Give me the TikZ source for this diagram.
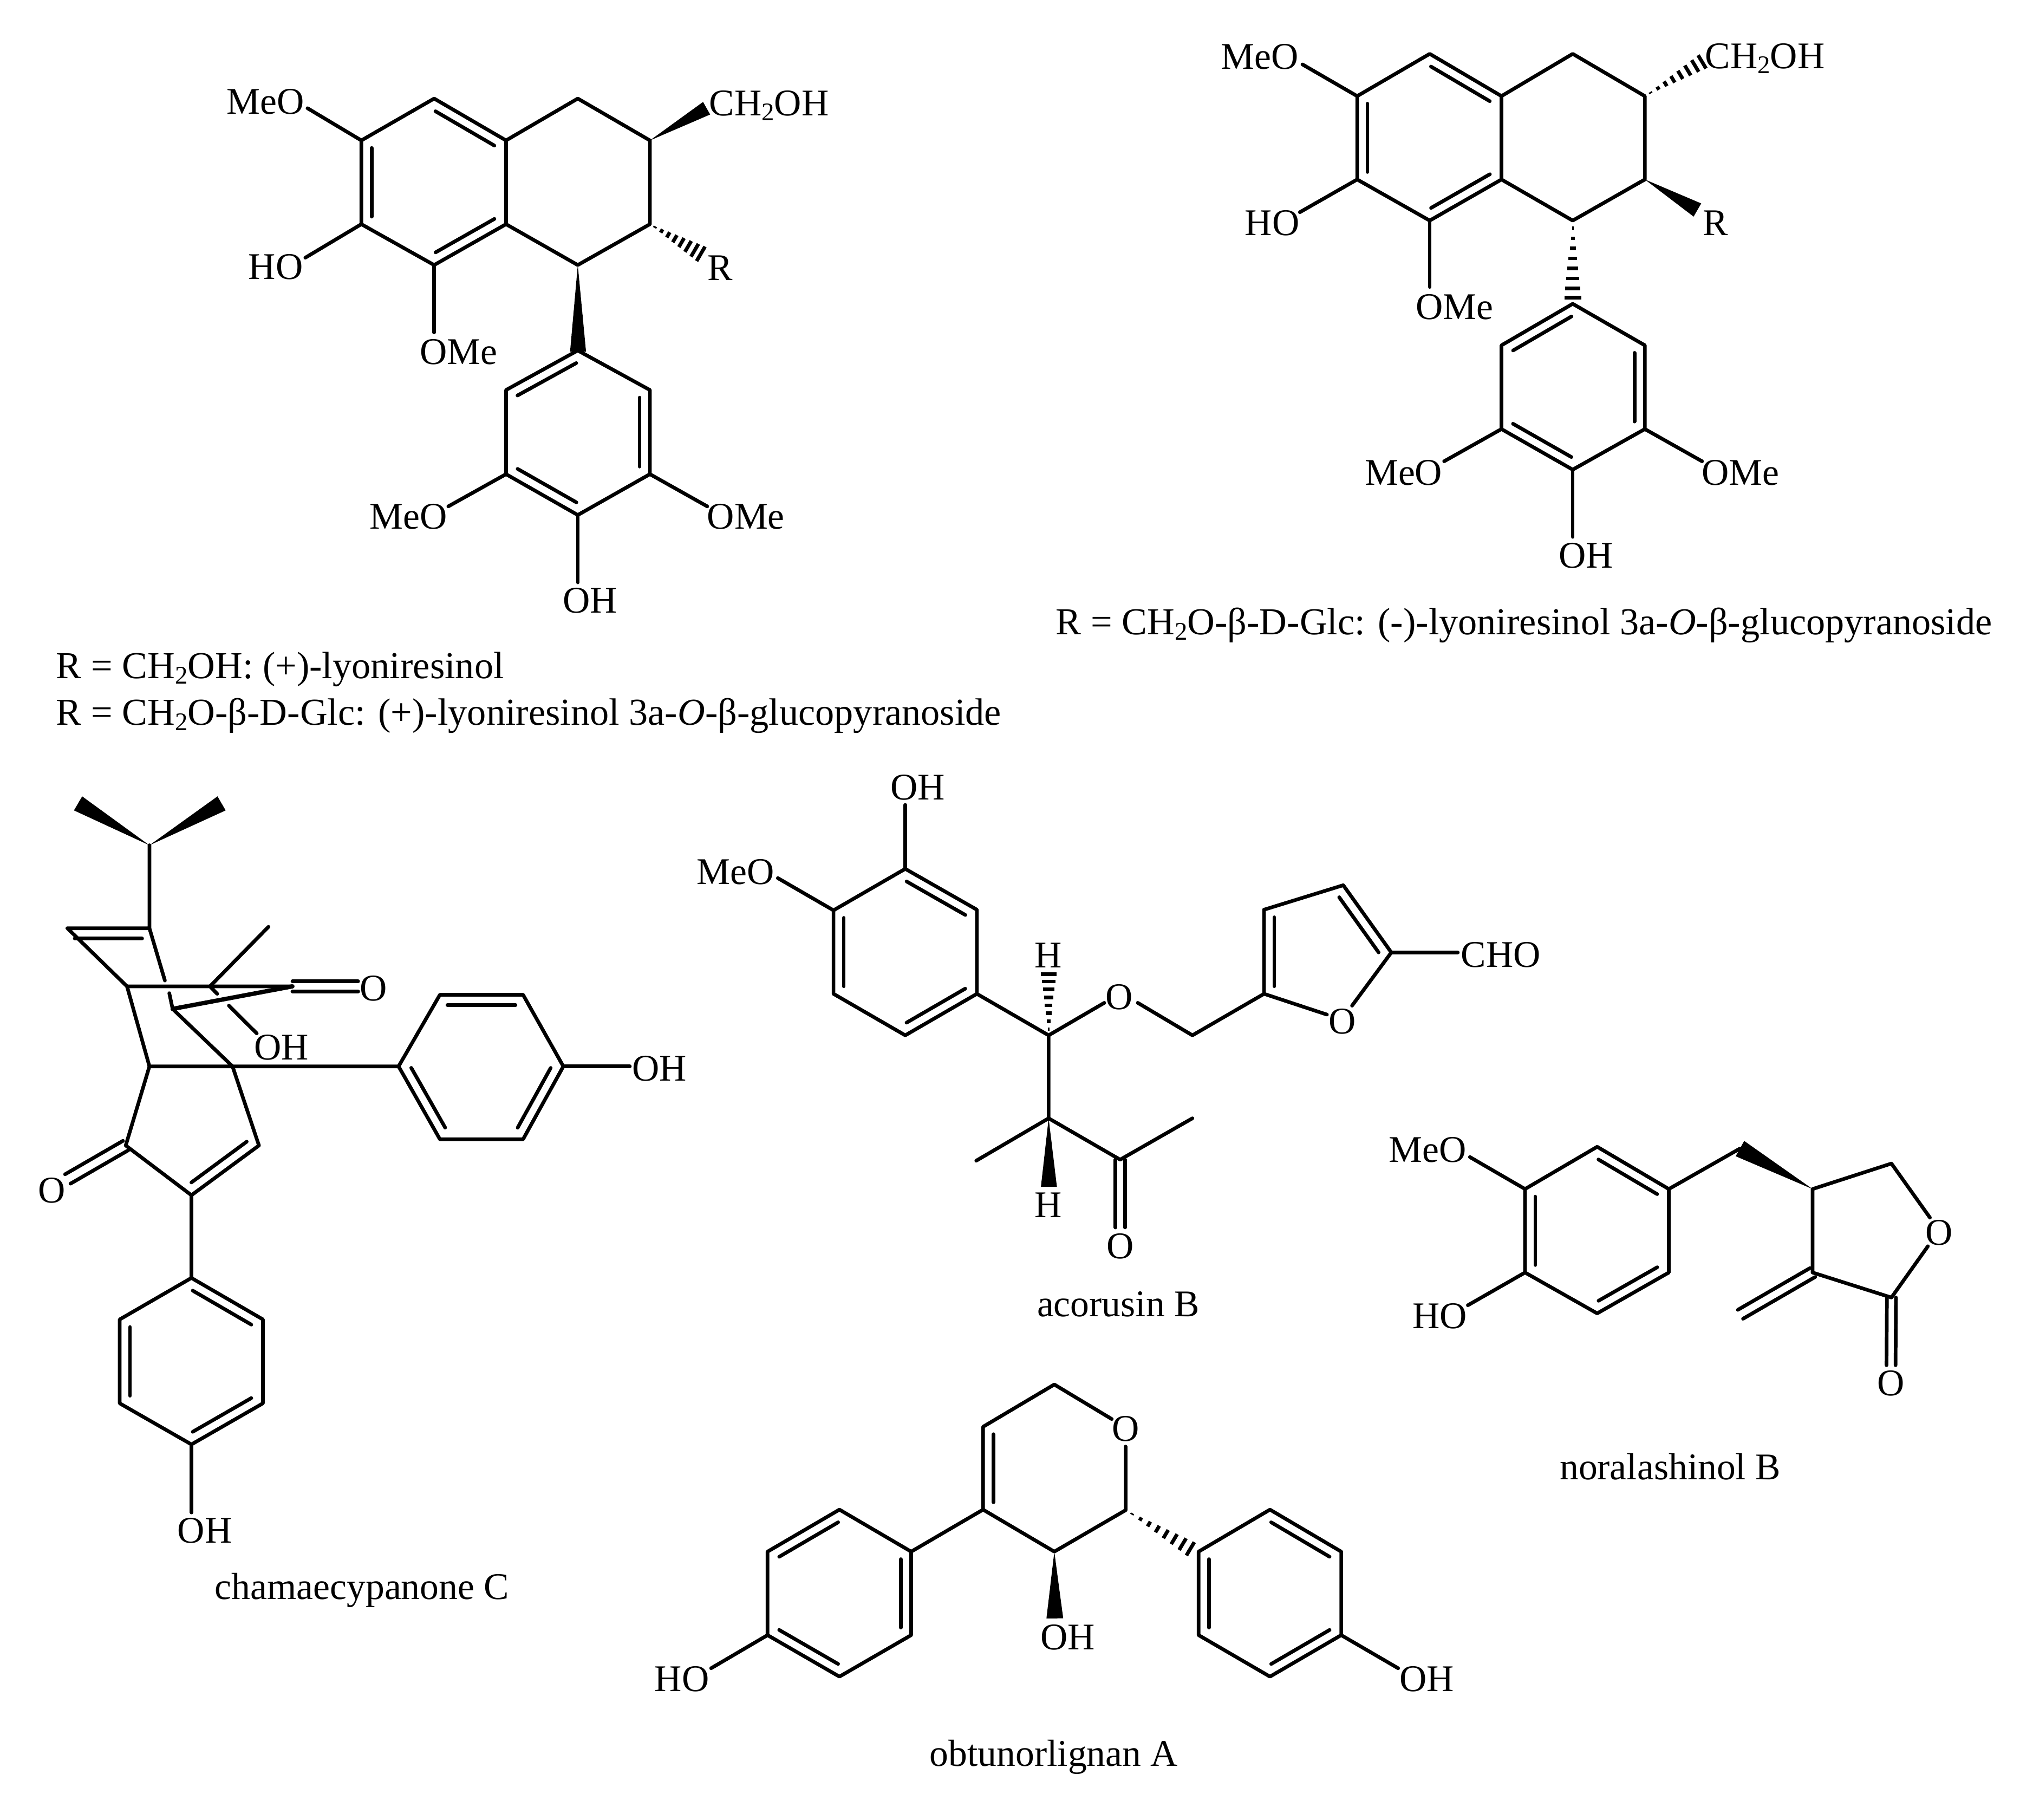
\documentclass[tikz,border=0pt]{standalone}
\usepackage{fontspec}
\setmainfont{Liberation Serif}
\usepackage{tikz}
\usetikzlibrary{calc}

\tikzset{
    bond/.style={line width=0.8pt,line cap=round,line join=round},
    lab/.style={inner sep=0pt,font=\fontsize{8.32}{10}\selectfont,text height=5.5pt,text depth=0pt},
    caption/.style={lab,anchor=west,font=\fontsize{8.4}{10}\selectfont}
}
\newcommand{\chemsub}[1]{\raisebox{-0.3ex}{\fontsize{5.6}{6}\selectfont #1}}
% inner line of a ring bond, on the left of the direction #1 to #2
\newcommand{\dbl}[2]{\draw[bond] ($(#1)!0.09!(#2)!0.08cm!90:(#2)$) -- ($(#2)!0.09!(#1)!0.08cm!-90:(#1)$);}
\newcommand{\twin}[3]{
    \draw[bond] ($(#1)!#3!90:(#2)$) -- ($(#2)!#3!-90:(#1)$);
    \draw[bond] ($(#1)!#3!-90:(#2)$) -- ($(#2)!#3!90:(#1)$);
}
\newcommand{\wedgebond}[3]{\fill (#1) -- ($(#2)!#3!90:(#1)$) -- ($(#2)!#3!-90:(#1)$) -- cycle;}
\newcommand{\hashbond}[3]{
    \foreach \t in {0.1,0.23,0.36,0.49,0.62,0.75,0.88,1}
        \draw[line width=0.8pt] ($(#1)!\t!(#2)!\t*#3!90:(#1)$) -- ($(#1)!\t!(#2)!\t*#3!-90:(#1)$);
}

\begin{document}
\begin{tikzpicture}[x=0.01cm,y=-0.01cm]

    \useasboundingbox (0,0) rectangle (1568,1412.4);

    % (+)-lyoniresinol
    \coordinate (a1) at (280.5,109); \coordinate (a2) at (337,76.5); \coordinate (a3) at (392.8,109);
    \coordinate (a4) at (392.8,174); \coordinate (a5) at (337,205.7); \coordinate (a6) at (280.5,174);
    \coordinate (b1) at (448.5,76.5); \coordinate (b2) at (504.5,109);
    \coordinate (b3) at (504.5,174); \coordinate (b4) at (448.5,205.7);
    \coordinate (c1) at (448.5,272); \coordinate (c2) at (504.5,302.7); \coordinate (c3) at (504.5,368);
    \coordinate (c4) at (448.5,399.7); \coordinate (c5) at (392.8,368); \coordinate (c6) at (392.8,302.7);
    \coordinate (a1e) at (238.7,84); \coordinate (a6e) at (237,200); \coordinate (a5e) at (337,258);
    \coordinate (c5e) at (348,393); \coordinate (c3e) at (549,393); \coordinate (c4e) at (448.5,452);
    \coordinate (b2e) at (548.5,84); \coordinate (b3e) at (544,197); \coordinate (b4e) at (448.7,273);

    \node[lab] (a1l) at (206,79) {MeO};
    \node[lab] (a6l) at (214,207) {HO};
    \node[lab] (a5l) at (356,273) {OMe};
    \node[lab] (c5l) at (317,401) {MeO};
    \node[lab] (c3l) at (579,401) {OMe};
    \node[lab] (c4l) at (458,466) {OH};
    \node[lab] (b2l) at (597,80) {CH\chemsub{2}OH};
    \node[lab] (b3l) at (559,208) {R};

    \draw[bond] (a1) -- (a2) -- (a3) -- (a4) -- (a5) -- (a6) -- cycle;
    \draw[bond] (a3) -- (b1) -- (b2) -- (b3) -- (b4) -- (a4);
    \draw[bond] (c1) -- (c2) -- (c3) -- (c4) -- (c5) -- (c6) -- cycle;
    \draw[bond] (a1) -- (a1e);
    \draw[bond] (a6) -- (a6e);
    \draw[bond] (a5) -- (a5e);
    \draw[bond] (c5) -- (c5e);
    \draw[bond] (c3) -- (c3e);
    \draw[bond] (c4) -- (c4e);
    \dbl{a1}{a6} \dbl{a3}{a2} \dbl{a5}{a4}
    \dbl{c1}{c6} \dbl{c3}{c2} \dbl{c5}{c4}
    \wedgebond{b2}{b2e}{0.056cm}
    \wedgebond{b4}{b4e}{0.062cm}
    \hashbond{b3}{b3e}{0.065cm}

    \node[caption] (cap1) at (43,517) {R = CH\chemsub{2}OH: (+)-lyoniresinol};
    \node[caption] (cap2) at (43,553) {R = CH\chemsub{2}O-β-D-Glc: (+)-lyoniresinol 3a-\textit{O}-β-glucopyranoside};

    % (-)-lyoniresinol
    \coordinate (m1) at (1053.5,74.6); \coordinate (m2) at (1109.8,41.8); \coordinate (m3) at (1165.5,74.6);
    \coordinate (m4) at (1165.5,139.3); \coordinate (m5) at (1109.8,171.2); \coordinate (m6) at (1053.5,139.3);
    \coordinate (n1) at (1220.8,41.8); \coordinate (n2) at (1276.8,74.6);
    \coordinate (n3) at (1276.8,139.3); \coordinate (n4) at (1220.8,171.2);
    \coordinate (p1) at (1220.8,235.8); \coordinate (p2) at (1276.8,268); \coordinate (p3) at (1276.8,333);
    \coordinate (p4) at (1220.8,364.5); \coordinate (p5) at (1165.5,333); \coordinate (p6) at (1165.5,268);
    \coordinate (m1e) at (1011,50); \coordinate (m6e) at (1009,164.7); \coordinate (m5e) at (1109.8,222.7);
    \coordinate (p5e) at (1121,358); \coordinate (p3e) at (1321.2,358); \coordinate (p4e) at (1220.8,416.7);
    \coordinate (n2e) at (1321.2,48); \coordinate (n3e) at (1317.6,163); \coordinate (n4e) at (1220.8,231);

    \node[lab] (m1l) at (978,44) {MeO};
    \node[lab] (m6l) at (987.5,172.8) {HO};
    \node[lab] (m5l) at (1129,238) {OMe};
    \node[lab] (p5l) at (1089.5,366.8) {MeO};
    \node[lab] (p3l) at (1351,366.8) {OMe};
    \node[lab] (p4l) at (1231,431) {OH};
    \node[lab] (n2l) at (1370,43.4) {CH\chemsub{2}OH};
    \node[lab] (n3l) at (1331.8,172.8) {R};

    \draw[bond] (m1) -- (m2) -- (m3) -- (m4) -- (m5) -- (m6) -- cycle;
    \draw[bond] (m3) -- (n1) -- (n2) -- (n3) -- (n4) -- (m4);
    \draw[bond] (p1) -- (p2) -- (p3) -- (p4) -- (p5) -- (p6) -- cycle;
    \draw[bond] (m1) -- (m1e);
    \draw[bond] (m6) -- (m6e);
    \draw[bond] (m5) -- (m5e);
    \draw[bond] (p5) -- (p5e);
    \draw[bond] (p3) -- (p3e);
    \draw[bond] (p4) -- (p4e);
    \dbl{m1}{m6} \dbl{m3}{m2} \dbl{m5}{m4}
    \dbl{p1}{p6} \dbl{p3}{p2} \dbl{p5}{p4}
    \hashbond{n2}{n2e}{0.06cm}
    \hashbond{n4}{n4e}{0.065cm}
    \wedgebond{n3}{n3e}{0.059cm}

    \node[caption] (cap3) at (819,483) {R = CH\chemsub{2}O-β-D-Glc: (-)-lyoniresinol 3a-\textit{O}-β-glucopyranoside};

    % chamaecypanone C
    \coordinate (v0) at (116,656); \coordinate (w1) at (60.6,623.5); \coordinate (w2) at (172,623.5);
    \coordinate (d1) at (116,720.4); \coordinate (d2) at (52.3,720.4); \coordinate (d3) at (98.6,765.5);
    \coordinate (d4) at (116,827.6); \coordinate (d5) at (180.5,827.6); \coordinate (d6) at (134,783);
    \coordinate (d7) at (227,765.5); \coordinate (d8) at (163,765.5); \coordinate (d9) at (208.4,719.3);
    \coordinate (g1a) at (128,761); \coordinate (g1b) at (131.4,770.8);
    \coordinate (g2a) at (168.6,771.3); \coordinate (g2b) at (177.7,780.5); \coordinate (d8e) at (199.3,802);
    \coordinate (d7e) at (278,765.5);
    \coordinate (v1) at (97.6,889); \coordinate (v2) at (148.6,927.6); \coordinate (v3) at (201,889);
    \coordinate (v1e) at (52.6,915);
    \coordinate (e1) at (309.4,827.6); \coordinate (e2) at (341.5,772); \coordinate (e3) at (406,772);
    \coordinate (e4) at (437.3,827.6); \coordinate (e5) at (406,884.2); \coordinate (e6) at (341.5,884.2);
    \coordinate (e4e) at (488.9,827.6);
    \coordinate (f1) at (148.6,991.8); \coordinate (f2) at (204.1,1024); \coordinate (f3) at (204.1,1089.1);
    \coordinate (f4) at (148.6,1121); \coordinate (f5) at (92.9,1089.1); \coordinate (f6) at (92.9,1024);
    \coordinate (f4e) at (148.6,1173.8);

    \node[lab] (d7l) at (290,767) {O};
    \node[lab] (d8l) at (218.5,813) {OH};
    \node[lab] (v1l) at (40,923.6) {O};
    \node[lab] (e4l) at (512,829) {OH};
    \node[lab] (f4l) at (159,1187.9) {OH};
    \node[lab] (name1) at (281,1231.4) {chamaecypanone C};

    \draw[bond] (v0) -- (d1) -- (d2) -- (d3) -- (d7);
    \draw[bond] (d1) -- (g1a);
    \draw[bond] (g1b) -- (d6);
    \draw[bond,line width=0.95pt] (d6) -- (d7);
    \draw[bond] (d9) -- (d8) -- (g2a);
    \draw[bond] (g2b) -- (d8e);
    \draw[bond] (d3) -- (d4) -- (e1);
    \draw[bond] (d6) -- (d5);
    \draw[bond] (d4) -- (v1) -- (v2) -- (v3) -- (d5);
    \draw[bond] (v2) -- (f1);
    \draw[bond] (e1) -- (e2) -- (e3) -- (e4) -- (e5) -- (e6) -- cycle;
    \draw[bond] (e4) -- (e4e);
    \draw[bond] (f1) -- (f2) -- (f3) -- (f4) -- (f5) -- (f6) -- cycle;
    \draw[bond] (f4) -- (f4e);
    \dbl{d1}{d2} \dbl{v2}{v3}
    \dbl{e3}{e2} \dbl{e5}{e4} \dbl{e1}{e6}
    \dbl{f2}{f1} \dbl{f4}{f3} \dbl{f6}{f5}
    \twin{d7}{d7e}{0.04cm}
    \twin{v1}{v1e}{0.042cm}
    \wedgebond{v0}{w1}{0.063cm}
    \wedgebond{v0}{w2}{0.063cm}

    % acorusin B
    \coordinate (g1) at (702.7,674.3); \coordinate (g2) at (758.3,706); \coordinate (g3) at (758.3,771.3);
    \coordinate (g4) at (702.7,803.5); \coordinate (g5) at (647,771.3); \coordinate (g6) at (647,706.5);
    \coordinate (g1e) at (702.7,624.7); \coordinate (g6e) at (603.8,681.5);
    \coordinate (h1) at (814,803.5); \coordinate (h1e) at (814,756); \coordinate (h1o) at (857.2,778.3);
    \coordinate (o1e) at (883.2,778.3); \coordinate (h3) at (925.6,803.5);
    \coordinate (j1) at (981.2,771.3); \coordinate (j2) at (981.2,706); \coordinate (j3) at (1042.7,687);
    \coordinate (j4) at (1080,739.2); \coordinate (j1e) at (1030,787.4); \coordinate (j4e) at (1049.5,780.5);
    \coordinate (j5e) at (1131.6,739.2);
    \coordinate (h2) at (814,867.9); \coordinate (h2e) at (814.2,921);
    \coordinate (k1) at (757.8,900.8); \coordinate (k2) at (869.5,900); \coordinate (k3) at (925.6,867.9);
    \coordinate (k2e) at (869.5,952.6);

    \node[lab] (g1l) at (712.3,611) {OH};
    \node[lab] (g6l) at (571,676.4) {MeO};
    \node[lab] (h1l) at (813.5,741.3) {H};
    \node[lab] (o1l) at (868.6,773.5) {O};
    \node[lab] (j1l) at (1041.8,792.8) {O};
    \node[lab] (j4l) at (1165,741) {CHO};
    \node[lab] (h2l) at (813.5,935) {H};
    \node[lab] (k2l) at (869.5,967) {O};
    \node[lab] (name2) at (868,1012) {acorusin B};

    \draw[bond] (g1) -- (g2) -- (g3) -- (g4) -- (g5) -- (g6) -- cycle;
    \draw[bond] (g1) -- (g1e);
    \draw[bond] (g6) -- (g6e);
    \draw[bond] (g3) -- (h1) -- (h1o);
    \draw[bond] (h1) -- (h2) -- (k2) -- (k3);
    \draw[bond] (h2) -- (k1);
    \draw[bond] (o1e) -- (h3) -- (j1) -- (j2) -- (j3) -- (j4) -- (j4e);
    \draw[bond] (j1) -- (j1e);
    \draw[bond] (j4) -- (j5e);
    \dbl{g2}{g1} \dbl{g4}{g3} \dbl{g6}{g5}
    \dbl{j2}{j1} \dbl{j4}{j3}
    \twin{k2}{k2e}{0.037cm}
    \hashbond{h1}{h1e}{0.06cm}
    \wedgebond{h2}{h2e}{0.062cm}

    % noralashinol B
    \coordinate (q1) at (1183.8,922.8); \coordinate (q2) at (1239.8,890); \coordinate (q3) at (1295.4,922.8);
    \coordinate (q4) at (1295.4,987.6); \coordinate (q5) at (1239.8,1019.3); \coordinate (q6) at (1183.8,987.6);
    \coordinate (q1e) at (1141,898); \coordinate (q6e) at (1139.4,1013);
    \coordinate (r1) at (1350.6,891.4); \coordinate (r2) at (1407,922.8); \coordinate (r3) at (1468.2,903);
    \coordinate (r3e) at (1498.1,945); \coordinate (r5e) at (1496.5,967.2);
    \coordinate (r5) at (1468.2,1007); \coordinate (r6) at (1407,987.6);
    \coordinate (r6e) at (1351,1020); \coordinate (r5o) at (1467.9,1059.5);

    \node[lab] (q1l) at (1108.2,892.2) {MeO};
    \node[lab] (q6l) at (1117.5,1021.5) {HO};
    \node[lab] (r4l) at (1505.2,956.5) {O};
    \node[lab] (r5l) at (1467.6,1073.4) {O};
    \node[lab] (name3) at (1296.5,1138.8) {noralashinol B};

    \draw[bond] (q1) -- (q2) -- (q3) -- (q4) -- (q5) -- (q6) -- cycle;
    \draw[bond] (q1) -- (q1e);
    \draw[bond] (q6) -- (q6e);
    \draw[bond] (q3) -- (r1);
    \draw[bond] (r3e) -- (r3) -- (r2) -- (r6) -- (r5) -- (r5e);
    \dbl{q1}{q6} \dbl{q3}{q2} \dbl{q5}{q4}
    \twin{r6}{r6e}{0.04cm}
    \twin{r5}{r5o}{0.035cm}
    \wedgebond{r2}{r1}{0.068cm}

    % obtunorlignan A
    \coordinate (s1) at (763.1,1107.3); \coordinate (s2) at (818.4,1074.5);
    \coordinate (s3a) at (863,1101.3); \coordinate (s3b) at (873.8,1122.7);
    \coordinate (s4) at (873.8,1172); \coordinate (s5) at (818.4,1204.2); \coordinate (s6) at (763.1,1171.6);
    \coordinate (s4e) at (924,1202); \coordinate (s5e) at (818.8,1256);
    \coordinate (t1) at (707.3,1204.2); \coordinate (t2) at (651.6,1171.6); \coordinate (t3) at (595.8,1204.2);
    \coordinate (t4) at (595.8,1269); \coordinate (t5) at (651.6,1301.2); \coordinate (t6) at (707.3,1269);
    \coordinate (t4e) at (552,1294.7);
    \coordinate (u1) at (930.4,1204.2); \coordinate (u2) at (985.8,1171.6); \coordinate (u3) at (1041.1,1204.2);
    \coordinate (u4) at (1041.1,1269); \coordinate (u5) at (985.8,1301.2); \coordinate (u6) at (930.4,1269);
    \coordinate (u4e) at (1085.3,1294.7);

    \node[lab] (s3l) at (873.8,1108.8) {O};
    \node[lab] (s5l) at (828.7,1270.7) {OH};
    \node[lab] (t4l) at (529.3,1302.9) {HO};
    \node[lab] (u4l) at (1107.6,1302.9) {OH};
    \node[lab] (name4) at (818,1360.8) {obtunorlignan A};

    \draw[bond] (s3a) -- (s2) -- (s1) -- (s6) -- (s5) -- (s4) -- (s3b);
    \draw[bond] (s6) -- (t1);
    \draw[bond] (t1) -- (t2) -- (t3) -- (t4) -- (t5) -- (t6) -- cycle;
    \draw[bond] (t4) -- (t4e);
    \draw[bond] (u1) -- (u2) -- (u3) -- (u4) -- (u5) -- (u6) -- cycle;
    \draw[bond] (u4) -- (u4e);
    \dbl{s1}{s6}
    \dbl{t2}{t3} \dbl{t4}{t5} \dbl{t6}{t1}
    \dbl{u1}{u6} \dbl{u3}{u2} \dbl{u5}{u4}
    \wedgebond{s5}{s5e}{0.065cm}
    \hashbond{s4}{s4e}{0.06cm}

\end{tikzpicture}
\end{document}
